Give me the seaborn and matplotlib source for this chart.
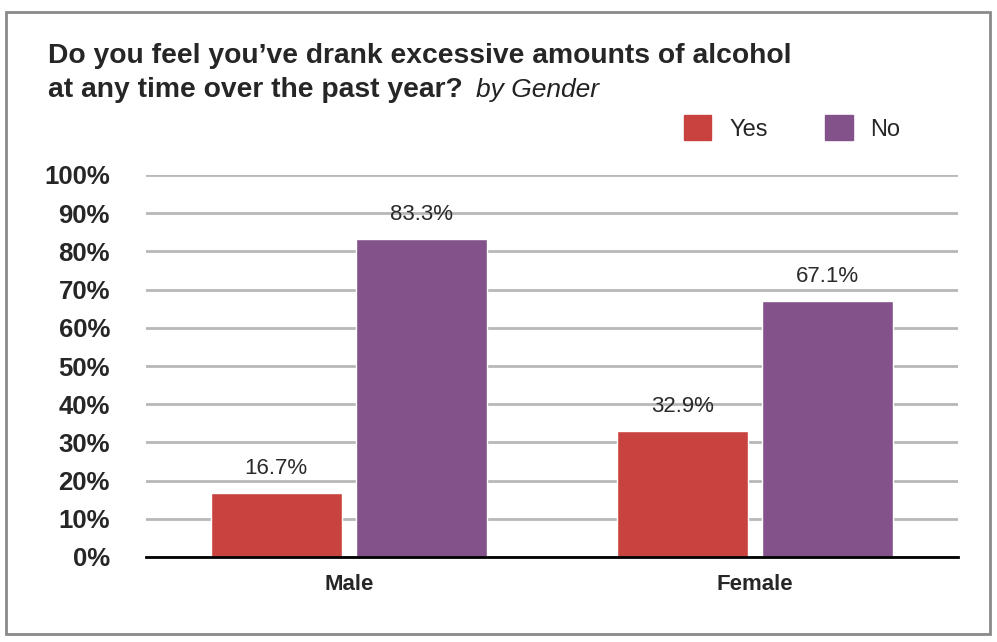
import matplotlib
matplotlib.use("Agg")
import matplotlib.pyplot as plt
import matplotlib.patches as mpatches
import pandas as pd
import seaborn as sns

genders = ["Male", "Female"]
answers = ["Yes", "No"]
yes_pct = [16.7, 32.9]
no_pct = [83.3, 67.1]
y_ticks = [0, 10, 20, 30, 40, 50, 60, 70, 80, 90, 100]
colors = {"Yes": "#C8433F", "No": "#83528B"}

df = pd.DataFrame({
    "Gender": genders * 2,
    "Answer": ["Yes"] * len(genders) + ["No"] * len(genders),
    "Pct": yes_pct + no_pct,
})

sns.set_style("white")
plt.rcParams["font.family"] = ["Liberation Sans", "DejaVu Sans"]

W, H = 997, 642
fig = plt.figure(figsize=(W / 100, H / 100), dpi=100)
ax = fig.add_axes([146 / W, 1 - 557 / H, 812 / W, 382 / H])

sns.barplot(data=df, x="Gender", y="Pct", hue="Answer", hue_order=answers,
            order=genders, palette=colors, width=0.717, gap=0.1,
            saturation=1, ax=ax, zorder=3)

# value labels above each bar
for c in ax.containers:
    ax.bar_label(c, fmt="%.1f%%", padding=10, fontsize=16, color="#2a2a2a")

ax.set_ylim(0, 100)
ax.set_xlim(-0.5, 1.5)
ax.set_yticks(y_ticks)
ax.set_yticklabels([f"{t}%" for t in y_ticks], fontsize=18.5, fontweight="bold")
ax.tick_params(axis="y", length=0, pad=26)
ax.tick_params(axis="x", length=0, pad=12, labelsize=16)
for lbl in ax.get_xticklabels():
    lbl.set_fontweight("bold")
ax.yaxis.grid(True, color="#b8b8b8", linewidth=2)
ax.set_axisbelow(True)
ax.set_xlabel("")
ax.set_ylabel("")
for s in ["top", "right", "left"]:
    ax.spines[s].set_visible(False)
ax.spines["bottom"].set_color("black")
ax.spines["bottom"].set_linewidth(2)
ax.spines["bottom"].set_zorder(4)

handles = [mpatches.Patch(color=colors[a], label=a) for a in answers]
ax.legend(handles=handles, ncol=2, frameon=False, fontsize=17,
          loc="center left", bbox_to_anchor=(684 / W, 1 - 128 / H),
          bbox_transform=fig.transFigure, borderpad=0, borderaxespad=0,
          handlelength=1.15, handleheight=1.2, columnspacing=2.45,
          handletextpad=0.76)

fig.text(48 / W, 1 - 63 / H, "Do you feel you\u2019ve drank excessive amounts of alcohol",
         fontsize=20.3, fontweight="bold", va="baseline")
line2 = fig.text(48 / W, 1 - 97 / H, "at any time over the past year?", fontsize=20.3,
                 fontweight="bold", va="baseline")
fig.canvas.draw()
x_end = line2.get_window_extent().x1
fig.text((x_end + 13) / W, 1 - 97 / H, "by Gender", fontsize=19,
         fontstyle="italic", va="baseline", color="#222222")

# grey frame round the whole chart
fig.patches.append(mpatches.Rectangle((6 / W, 8 / H), 984 / W, 622 / H, fill=False,
                                      edgecolor="#8a8a8a", linewidth=2,
                                      transform=fig.transFigure))

fig.savefig("out.png", dpi=100, facecolor="white")
